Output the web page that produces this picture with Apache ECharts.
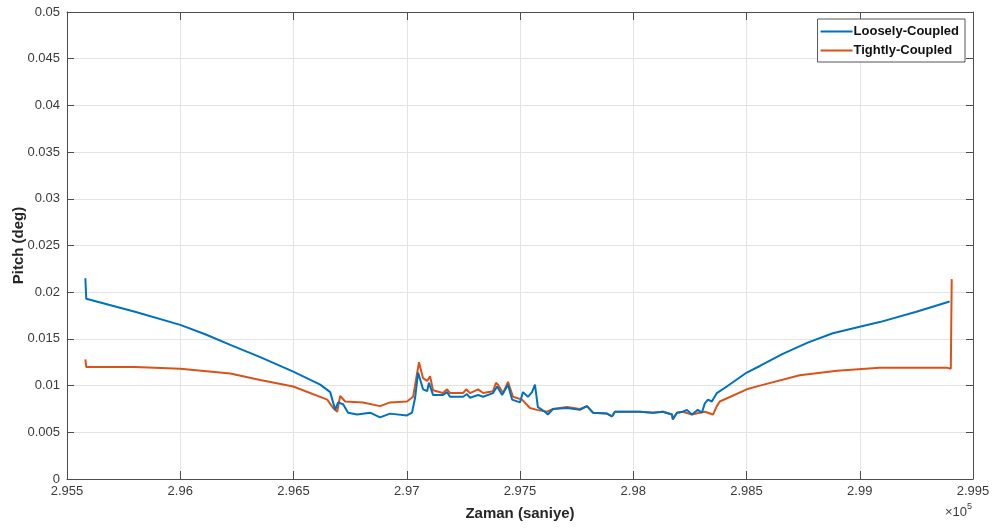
<!DOCTYPE html>
<html>
<head>
<meta charset="utf-8">
<script src="https://cdn.jsdelivr.net/npm/echarts@6/dist/echarts.min.js"></script>
<style>
  html, body { margin: 0; padding: 0; background: #fff; }
  #chart { width: 998px; height: 528px; }
</style>
</head>
<body>
<div id="chart"></div>
<script>
// Time axis (seconds) and pitch values (deg) for both integration schemes
const looseTime = [
  295581, 295585, 295800, 296000, 296110, 296221, 296353, 296499, 296618, 296662, 296684,
  296697, 296719, 296741, 296781, 296838, 296882, 296926, 297001, 297023, 297037,
  297050, 297072, 297090, 297098, 297116, 297160, 297178, 297191, 297249, 297266,
  297279, 297315, 297337, 297381, 297399, 297421, 297447, 297465, 297500, 297513,
  297535, 297553, 297566, 297579, 297610, 297623, 297646, 297707, 297765, 297796,
  297822, 297884, 297906, 297919, 298030, 298087, 298131, 298171, 298175, 298193,
  298219, 298237, 298259, 298285, 298303, 298316, 298330, 298347, 298369, 298413,
  298501, 298559, 298660, 298770, 298881, 299000, 299088, 299250, 299397
];
const looseVals = [
  0.0215, 0.0193, 0.0179, 0.0165, 0.0155, 0.01436, 0.01305, 0.0115, 0.0101, 0.0093, 0.0074,
  0.0082, 0.0080, 0.0071, 0.0069, 0.0071, 0.0066, 0.0070, 0.0068, 0.0071, 0.0087,
  0.0114, 0.0096, 0.0094, 0.0103, 0.0090, 0.0090, 0.0093, 0.0088, 0.0088, 0.0091,
  0.0087, 0.0090, 0.0088, 0.0092, 0.0099, 0.0090, 0.0101, 0.0085, 0.0082, 0.0093,
  0.0088, 0.0093, 0.0101, 0.0077, 0.0072, 0.0069, 0.0075, 0.0076, 0.0074, 0.0078,
  0.0071, 0.0070, 0.0067, 0.0072, 0.0072, 0.0071, 0.0072, 0.0069, 0.0064, 0.0071,
  0.0072, 0.0074, 0.0069, 0.0074, 0.0071, 0.0081, 0.0085, 0.0083, 0.0092, 0.0099,
  0.0114, 0.0121, 0.0134, 0.0146, 0.0156, 0.0163, 0.0168, 0.0179, 0.0190
];

const tightTime = [
  295581, 295585, 295800, 296000, 296221, 296353, 296499, 296649, 296675, 296693,
  296706, 296728, 296807, 296882, 296926, 297001, 297028, 297054, 297072, 297090,
  297103, 297116, 297160, 297178, 297191, 297249, 297262, 297279, 297315, 297337,
  297381, 297394, 297403, 297425, 297447, 297469, 297509, 297544, 297575, 297619,
  297646, 297707, 297765, 297796, 297822, 297884, 297906, 297919, 298030, 298087,
  298131, 298171, 298175, 298193, 298219, 298259, 298294, 298316, 298352, 298369,
  298382, 298501, 298559, 298735, 298900, 299088, 299388, 299402, 299406
];
const tightVals = [
  0.0128, 0.0120, 0.0120, 0.0118, 0.0113, 0.0106, 0.0099, 0.0085, 0.0076, 0.0072,
  0.0089, 0.0083, 0.0082, 0.0078, 0.0082, 0.0083, 0.0088, 0.0125, 0.0108, 0.0105,
  0.0110, 0.0095, 0.0092, 0.0096, 0.0092, 0.0092, 0.0096, 0.0092, 0.0096, 0.0092,
  0.0094, 0.0103, 0.0101, 0.0092, 0.0104, 0.0088, 0.0085, 0.0076, 0.0074, 0.0072,
  0.0075, 0.0077, 0.0075, 0.0078, 0.0071, 0.0070, 0.0067, 0.0072, 0.0072, 0.0071,
  0.0072, 0.0069, 0.0064, 0.0071, 0.0072, 0.0069, 0.0071, 0.0072, 0.0069, 0.0078,
  0.0083, 0.0096, 0.0100, 0.0111, 0.0116, 0.0119, 0.0119, 0.0118, 0.0214
];

const seriesNames = ['Loosely-Coupled', 'Tightly-Coupled'];
const seriesColors = ['#0072BD', '#D95319'];

const xMin = 295500, xMax = 299500, xStep = 500;
const yMin = 0, yMax = 0.05, yStep = 0.005;

const pair = (ts, vs) => ts.map((t, i) => [t, vs[i]]);
const trim = v => parseFloat(v.toFixed(4)).toString();

const axisColor = '#4d4d4d';
const labelColor = '#3a3a3a';
const gridColor = '#e3e3e3';
const fontFamily = 'Liberation Sans, Arial, sans-serif';

const chart = echarts.init(document.getElementById('chart'), null, { renderer: 'canvas' });

chart.setOption({
  animation: false,
  backgroundColor: '#fff',
  grid: { left: 67, right: 25, top: 12, bottom: 49, containLabel: false, outerBoundsMode: 'none' },
  legend: {
    data: seriesNames,
    orient: 'vertical',
    right: 33,
    top: 19,
    padding: [6, 6, 5, 3],
    itemGap: 6,
    itemWidth: 32,
    itemHeight: 2,
    icon: 'rect',
    backgroundColor: '#fff',
    borderColor: '#555',
    borderWidth: 1,
    borderRadius: 0,
    textStyle: { fontFamily, fontSize: 13, fontWeight: 'bold', color: '#111', padding: [0, 0, 0, -4] }
  },
  xAxis: [
    {
      type: 'value', min: xMin, max: xMax, interval: xStep,
      name: 'Zaman (saniye)', nameLocation: 'middle', nameGap: 27, nameMoveOverlap: false,
      nameTextStyle: { fontFamily, fontSize: 15, fontWeight: 'bold', color: '#262626' },
      axisLine: { show: true, onZero: false, lineStyle: { color: axisColor, width: 1 } },
      axisTick: { show: true, inside: true, length: 8, lineStyle: { color: axisColor } },
      axisLabel: {
        fontFamily, fontSize: 13, color: labelColor, margin: 6,
        formatter: v => parseFloat((v / 1e5).toFixed(3)).toString()
      },
      splitLine: { show: true, lineStyle: { color: gridColor, width: 1 } }
    },
    {
      type: 'value', position: 'top', min: xMin, max: xMax, interval: xStep,
      axisLine: { show: true, onZero: false, lineStyle: { color: axisColor, width: 1 } },
      axisTick: { show: true, inside: true, length: 8, lineStyle: { color: axisColor } },
      axisLabel: { show: false },
      splitLine: { show: false }
    }
  ],
  yAxis: [
    {
      type: 'value', min: yMin, max: yMax, interval: yStep,
      name: 'Pitch (deg)', nameLocation: 'middle', nameGap: 41, nameRotate: 90, nameMoveOverlap: false,
      nameTextStyle: { fontFamily, fontSize: 15, fontWeight: 'bold', color: '#262626' },
      axisLine: { show: true, onZero: false, lineStyle: { color: axisColor, width: 1 } },
      axisTick: { show: true, inside: true, length: 7, lineStyle: { color: axisColor } },
      axisLabel: { fontFamily, fontSize: 13, color: labelColor, margin: 7, formatter: trim },
      splitLine: { show: true, lineStyle: { color: gridColor, width: 1 } }
    },
    {
      type: 'value', position: 'right', min: yMin, max: yMax, interval: yStep,
      axisLine: { show: true, onZero: false, lineStyle: { color: axisColor, width: 1 } },
      axisTick: { show: true, inside: true, length: 7, lineStyle: { color: axisColor } },
      axisLabel: { show: false },
      splitLine: { show: false }
    }
  ],
  series: [
    {
      name: seriesNames[0], type: 'line', xAxisIndex: 0, yAxisIndex: 0,
      data: pair(looseTime, looseVals),
      showSymbol: false, symbol: 'none', smooth: false,
      lineStyle: { color: seriesColors[0], width: 2 },
      itemStyle: { color: seriesColors[0] },
      z: 3
    },
    {
      name: seriesNames[1], type: 'line', xAxisIndex: 0, yAxisIndex: 0,
      data: pair(tightTime, tightVals),
      showSymbol: false, symbol: 'none', smooth: false,
      lineStyle: { color: seriesColors[1], width: 2 },
      itemStyle: { color: seriesColors[1] },
      z: 2
    }
  ],
  graphic: [
    {
      type: 'text', right: 26, top: 502,
      style: {
        text: '{a|×10}{b|5}',
        rich: {
          a: { fontFamily, fontSize: 13, fill: labelColor, verticalAlign: 'bottom' },
          b: { fontFamily, fontSize: 9, fill: labelColor, verticalAlign: 'top', padding: [0, 0, 8, 0] }
        }
      }
    }
  ]
});
</script>
</body>
</html>
